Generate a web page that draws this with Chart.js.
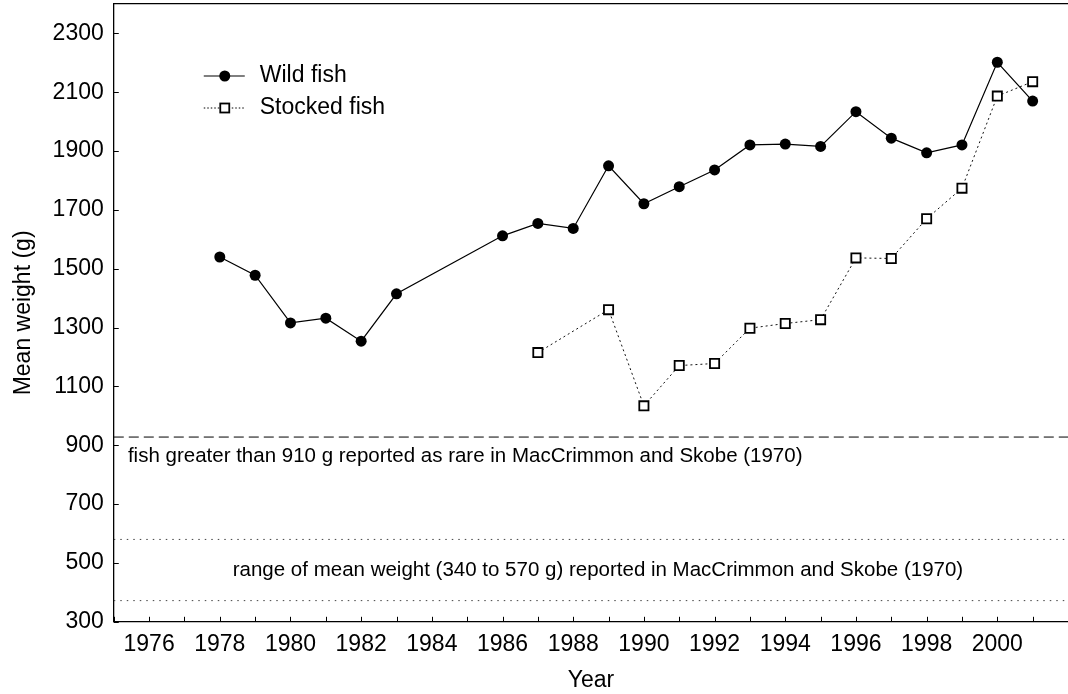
<!DOCTYPE html>
<html>
<head>
<meta charset="utf-8">
<title>Mean weight of wild and stocked fish</title>
<script src="https://cdn.jsdelivr.net/npm/chart.js@4.4.1/dist/chart.umd.min.js"></script>
<style>
  html, body { margin: 0; padding: 0; background: #fff; }
  canvas { display: block; }
</style>
</head>
<body>
<canvas id="fish-chart" width="1068" height="694"></canvas>
<script>
// values
const wildYears = [1978, 1979, 1980, 1981, 1982, 1983, 1986, 1987, 1988, 1989, 1990, 1991, 1992, 1993, 1994, 1995, 1996, 1997, 1998, 1999, 2000, 2001];
const wildWeights = [1540, 1478, 1316, 1332, 1254, 1415, 1612, 1654, 1637, 1850, 1721, 1779, 1836, 1921, 1924, 1916, 2034, 1944, 1894, 1921, 2202, 2070];
const stockedYears = [1987, 1989, 1990, 1991, 1992, 1993, 1994, 1995, 1996, 1997, 1998, 1999, 2000, 2001];
const stockedWeights = [1215, 1361, 1034, 1171, 1178, 1298, 1314, 1327, 1537, 1535, 1670, 1774, 2087, 2136];
const seriesNames = ['Wild fish', 'Stocked fish'];
const yTickValues = [300, 500, 700, 900, 1100, 1300, 1500, 1700, 1900, 2100, 2300];
const xLabelYears = [1976, 1978, 1980, 1982, 1984, 1986, 1988, 1990, 1992, 1994, 1996, 1998, 2000];
const rareLimit = 928;
const historicRange = [372, 580];
const notes = [
  'fish greater than 910 g reported as rare in MacCrimmon and Skobe (1970)',
  'range of mean weight (340 to 570 g) reported in MacCrimmon and Skobe (1970)'
];

const xMin = 1975, xMax = 2002;
const yMin = 300, yMax = 2400;
const fontFamily = '"Liberation Sans", Arial, Helvetica, sans-serif';

const toPoints = (xs, ys) => xs.map((x, i) => ({ x: x, y: ys[i] }));
const flatLine = v => [{ x: xMin, y: v }, { x: xMax, y: v }];

const tickYears = [];
for (let yr = xMin; yr <= xMax; yr++) tickYears.push(yr);

// inward tick marks on both axes
const innerTicks = {
  id: 'innerTicks',
  afterDraw(chart) {
    const { ctx, chartArea, scales } = chart;
    ctx.save();
    ctx.strokeStyle = '#000';
    ctx.lineWidth = 1;
    ctx.beginPath();
    tickYears.forEach(v => {
      const px = Math.round(scales.x.getPixelForValue(v)) + 0.5;
      ctx.moveTo(px, chartArea.bottom);
      ctx.lineTo(px, chartArea.bottom - 5);
    });
    yTickValues.forEach(v => {
      const py = Math.round(scales.y.getPixelForValue(v)) + 0.5;
      ctx.moveTo(chartArea.left, py);
      ctx.lineTo(chartArea.left + 5, py);
    });
    ctx.stroke();
    ctx.restore();
  }
};

// notes under the reference lines + the legend in the top-left corner
const notesPlugin = {
  id: 'notes',
  afterDatasetsDraw(chart) {
    const { ctx, chartArea, scales } = chart;
    const x = scales.x, y = scales.y;
    ctx.save();
    ctx.fillStyle = '#000';
    ctx.font = '20.5px ' + fontFamily;
    ctx.textBaseline = 'middle';
    ctx.textAlign = 'left';
    ctx.fillText(notes[0], x.getPixelForValue(1975.4), y.getPixelForValue(rareLimit) + 19);
    ctx.textAlign = 'center';
    const midY = (y.getPixelForValue(historicRange[0]) + y.getPixelForValue(historicRange[1])) / 2;
    ctx.fillText(notes[1], x.getPixelForValue(1988.7), midY);

    // legend
    const lx = chartArea.left + 90;
    const ly = chartArea.top + 72;
    ctx.strokeStyle = '#000';
    ctx.lineWidth = 1.2;
    ctx.setLineDash([]);
    ctx.beginPath();
    ctx.moveTo(lx, ly);
    ctx.lineTo(lx + 41, ly);
    ctx.stroke();
    ctx.beginPath();
    ctx.arc(lx + 21, ly, 5.5, 0, Math.PI * 2);
    ctx.fill();

    ctx.lineWidth = 1;
    ctx.setLineDash([1.5, 2]);
    ctx.beginPath();
    ctx.moveTo(lx, ly + 32);
    ctx.lineTo(lx + 41, ly + 32);
    ctx.stroke();
    ctx.setLineDash([]);
    ctx.fillStyle = '#fff';
    ctx.fillRect(lx + 16.5, ly + 27.5, 9, 9);
    ctx.lineWidth = 1.8;
    ctx.strokeRect(lx + 16.5, ly + 27.5, 9, 9);

    ctx.fillStyle = '#000';
    ctx.font = '23px ' + fontFamily;
    ctx.textAlign = 'left';
    ctx.fillText(seriesNames[0], lx + 56, ly);
    ctx.fillText(seriesNames[1], lx + 56, ly + 32);
    ctx.restore();
  }
};

const ctx = document.getElementById('fish-chart').getContext('2d');
const chart = new Chart(ctx, {
  type: 'line',
  data: {
    datasets: [
      {
        label: seriesNames[0],
        data: toPoints(wildYears, wildWeights),
        borderColor: '#000',
        borderWidth: 1.2,
        backgroundColor: '#000',
        pointStyle: 'circle',
        pointRadius: 5.5,
        pointBorderWidth: 0,
        tension: 0
      },
      {
        label: seriesNames[1],
        data: toPoints(stockedYears, stockedWeights),
        borderColor: '#111',
        borderWidth: 1,
        borderDash: [2, 3],
        pointStyle: 'rect',
        pointRadius: 6.5,
        pointBorderWidth: 1.8,
        pointBorderColor: '#000',
        pointBackgroundColor: '#fff',
        tension: 0
      },
      {
        label: 'rare',
        data: flatLine(rareLimit),
        borderColor: '#000',
        borderWidth: 1,
        borderDash: [10, 5],
        pointRadius: 0
      },
      {
        label: 'range low',
        data: flatLine(historicRange[0]),
        borderColor: '#444',
        borderWidth: 1,
        borderDash: [1.5, 5],
        pointRadius: 0
      },
      {
        label: 'range high',
        data: flatLine(historicRange[1]),
        borderColor: '#444',
        borderWidth: 1,
        borderDash: [1.5, 5],
        pointRadius: 0
      }
    ]
  },
  options: {
    responsive: false,
    animation: false,
    layout: { autoPadding: false, padding: { top: 4, right: 0, bottom: 0, left: 0 } },
    plugins: {
      legend: { display: false },
      tooltip: { enabled: false }
    },
    scales: {
      x: {
        type: 'linear',
        min: xMin,
        max: xMax,
        afterBuildTicks: scale => { scale.ticks = tickYears.map(v => ({ value: v })); },
        afterFit: scale => { scale.paddingLeft = 0; scale.paddingRight = 0; },
        ticks: {
          autoSkip: false,
          maxRotation: 0,
          padding: 9,
          color: '#000',
          font: { size: 23, family: fontFamily },
          callback: v => (xLabelYears.includes(v) ? String(v) : '')
        },
        grid: { display: false, drawTicks: false },
        border: { display: true, color: '#000', width: 1.3 },
        title: {
          display: true,
          text: 'Year',
          color: '#000',
          font: { size: 23, family: fontFamily },
          padding: { top: -1, bottom: 0 }
        }
      },
      xTop: {
        type: 'linear',
        position: 'top',
        min: xMin,
        max: xMax,
        ticks: { display: false },
        grid: { display: false, drawTicks: false },
        border: { display: true, color: '#000', width: 1.3 }
      },
      y: {
        type: 'linear',
        min: yMin,
        max: yMax,
        afterBuildTicks: scale => { scale.ticks = yTickValues.map(v => ({ value: v })); },
        afterFit: scale => { scale.paddingTop = 0; scale.paddingBottom = 0; },
        ticks: {
          padding: 10,
          color: '#000',
          font: { size: 23, family: fontFamily },
          callback: v => String(v)
        },
        grid: { display: false, drawTicks: false },
        border: { display: true, color: '#000', width: 1.3 },
        title: {
          display: true,
          text: 'Mean weight (g)',
          color: '#000',
          font: { size: 23, family: fontFamily },
          padding: { top: 10, bottom: 5 }
        }
      }
    }
  },
  plugins: [notesPlugin, innerTicks]
});
</script>
</body>
</html>
